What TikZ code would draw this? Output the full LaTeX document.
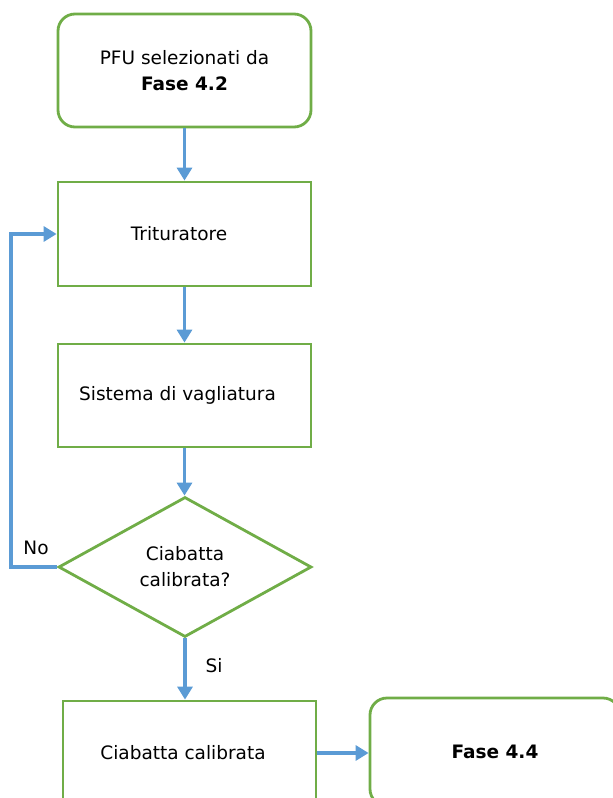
\documentclass[tikz,border=0pt]{standalone}
\usepackage{fontspec}
\setmainfont{DejaVu Sans}
\usetikzlibrary{arrows.meta,shapes.geometric}
\definecolor{boxgreen}{HTML}{70AD47}
\definecolor{arrowblue}{HTML}{5B9BD5}
\begin{document}
\begin{tikzpicture}[x=1pt,y=-1pt,
  every node/.style={font=\fontsize{18.5}{26}\selectfont, text=black},
  procbox/.style={draw=boxgreen, line width=2.8pt, minimum width=253pt, inner sep=0pt, align=center},
  termbox/.style={procbox, rounded corners=17pt},
  decbox/.style={diamond, draw=boxgreen, line width=2.8pt, minimum width=253pt, minimum height=140pt, inner sep=0pt},
  flow/.style={draw=arrowblue, line width=3.2pt, -{Triangle[length=13pt,width=15pt]}},
  lbl/.style={inner sep=0pt}
]
\useasboundingbox (0,0) rectangle (613,798);
\clip (0,0) rectangle (613,798);
\node[termbox, minimum height=113pt] (start) at (184.5,70.5) {PFU selezionati da\\\textbf{Fase 4.2}};
\node[procbox, minimum height=104pt] (trit) at (184.5,234) {\hspace*{-11pt}Trituratore};
\node[procbox, minimum height=103pt] (sist) at (184.5,395.5) {\hspace*{-14pt}Sistema di vagliatura};
\node[decbox] (dec) at (185,567) {};
\node[align=center, inner sep=0pt] (dectext) at (dec.center) {Ciabatta\\calibrata?};
\node[procbox, minimum height=104pt] (cc) at (189.5,753) {\hspace*{-13pt}Ciabatta calibrata};
\node[termbox, minimum width=250pt, minimum height=108pt] (f44) at (495,752) {\textbf{Fase 4.4}};
\coordinate (loopx) at (11,0);
\draw[flow] (start) -- (trit);
\draw[flow] (trit) -- (sist);
\draw[flow] (sist.south) -- (sist.south |- dec.north);
\draw[flow] (dec.west) -- (dec.west -| loopx) |- (trit.west);
\draw[flow] (dec.south) -- (dec.south |- cc.north);
\draw[flow] (cc.east) -- (cc.east -| f44.west);
\node[lbl] (no) at (36,548) {No};
\node[lbl] (si) at (214,666) {Si};
\end{tikzpicture}
\end{document}
